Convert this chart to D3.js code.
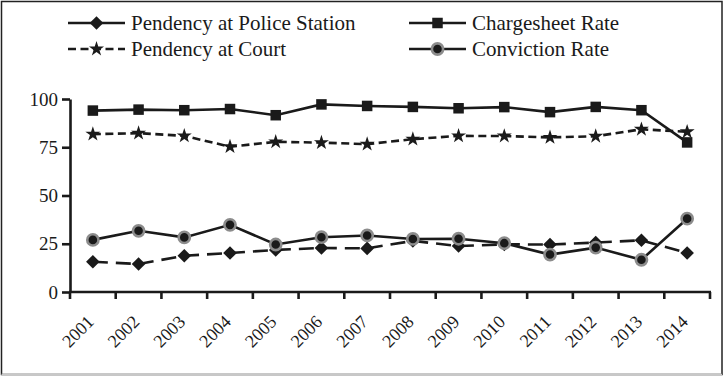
<!DOCTYPE html>
<html>
<head>
<meta charset="utf-8">
<script src="https://cdn.jsdelivr.net/npm/d3@7/dist/d3.min.js"></script>
<style>
  html, body { margin: 0; padding: 0; background: #fff; }
  svg { display: block; }
</style>
</head>
<body>
<svg id="chart" width="724" height="379"></svg>
<script>
// Years on the category axis
const years = ["2001","2002","2003","2004","2005","2006","2007","2008","2009","2010","2011","2012","2013","2014"];

// Series values (%)
const policePendency = [15.7, 14.5, 18.8, 20.2, 21.8, 22.8, 22.6, 26.5, 23.8, 24.7, 24.6, 25.6, 26.8, 20.2];
const chargesheetRate = [94.0, 94.5, 94.2, 94.8, 91.6, 97.2, 96.4, 95.9, 95.2, 95.8, 93.2, 95.9, 94.2, 77.5];
const courtPendency = [81.8, 82.3, 80.9, 75.3, 77.8, 77.4, 76.6, 79.2, 80.9, 80.8, 80.1, 80.7, 84.3, 83.0];
const convictionRate = [27.0, 31.7, 28.3, 34.8, 24.6, 28.4, 29.3, 27.5, 27.6, 25.3, 19.4, 23.0, 16.7, 38.0];

const yTicks = [0, 25, 50, 75, 100];

const series = [
  { name: "Pendency at Police Station", values: policePendency, marker: "diamond", dash: "15,8", legendDash: null },
  { name: "Chargesheet Rate", values: chargesheetRate, marker: "square", dash: null, legendDash: null },
  { name: "Pendency at Court", values: courtPendency, marker: "star", dash: "8,4.5", legendDash: "8,4.5" },
  { name: "Conviction Rate", values: convictionRate, marker: "circle", dash: null, legendDash: null }
];

const svg = d3.select("#chart");
const ink = "#1a1a1a";
const serif = "'Liberation Serif', 'Times New Roman', serif";

// Outer frame
svg.append("rect")
  .attr("x", 1.5).attr("y", 1.5).attr("width", 720.5).attr("height", 373)
  .attr("fill", "none").attr("stroke", "#222").attr("stroke-width", 1.5);
svg.append("line")
  .attr("x1", 1.5).attr("x2", 722).attr("y1", 374.5).attr("y2", 374.5)
  .attr("stroke", "#c8c8c8").attr("stroke-width", 1.5);

const plot = { left: 70, right: 710, top: 99, bottom: 292 };

const x = d3.scaleBand().domain(years).range([plot.left, plot.right]).padding(0);
const y = d3.scaleLinear().domain([0, 100]).range([plot.bottom, plot.top]);
const cx = d => x(d) + x.bandwidth() / 2;

// Y axis
const yAxis = svg.append("g")
  .attr("transform", `translate(${plot.left},0)`)
  .call(d3.axisLeft(y).tickValues(yTicks).tickSize(8).tickPadding(4).tickSizeOuter(0));
yAxis.select(".domain").attr("stroke", ink).attr("stroke-width", 2.6);
yAxis.selectAll(".tick line").attr("stroke", ink).attr("stroke-width", 2.6);
yAxis.selectAll(".tick text")
  .style("font-family", serif)
  .style("font-size", "19px")
  .attr("fill", ink);

// X axis: ticks sit on category boundaries
const bounds = years.map(d => x(d)).concat([plot.right]);
const xAxisG = svg.append("g");
xAxisG.append("line")
  .attr("x1", plot.left - 1).attr("x2", plot.right + 1)
  .attr("y1", plot.bottom).attr("y2", plot.bottom)
  .attr("stroke", ink).attr("stroke-width", 2.6);
xAxisG.selectAll("line.tk").data(bounds).join("line")
  .attr("class", "tk")
  .attr("x1", d => d).attr("x2", d => d)
  .attr("y1", plot.bottom).attr("y2", plot.bottom + 7)
  .attr("stroke", ink).attr("stroke-width", 2.6);
xAxisG.selectAll("text").data(years).join("text")
  .attr("transform", d => `translate(${cx(d) + 2},${plot.bottom + 31}) rotate(-45)`)
  .attr("text-anchor", "end")
  .attr("fill", ink)
  .style("font-family", serif)
  .style("font-size", "18px")
  .text(d => d);

// Marker drawing
function drawMarker(g, type, px, py) {
  if (type === "diamond") {
    const r = 6.8;
    g.append("path")
      .attr("d", `M${px},${py - r}L${px + r},${py}L${px},${py + r}L${px - r},${py}Z`)
      .attr("fill", ink);
  } else if (type === "square") {
    const s = 10.5;
    g.append("rect").attr("x", px - s / 2).attr("y", py - s / 2)
      .attr("width", s).attr("height", s).attr("fill", ink);
  } else if (type === "star") {
    g.append("path")
      .attr("d", d3.symbol().type(d3.symbolStar).size(70)())
      .attr("transform", `translate(${px},${py})`)
      .attr("fill", ink);
  } else if (type === "circle") {
    g.append("circle").attr("cx", px).attr("cy", py).attr("r", 5.6)
      .attr("fill", ink).attr("stroke", "#8c8c8c").attr("stroke-width", 2.6);
  }
}

// Series lines and markers
const line = d3.line().x((v, i) => cx(years[i])).y(v => y(v));
series.forEach(s => {
  const g = svg.append("g");
  g.append("path")
    .attr("d", line(s.values))
    .attr("fill", "none")
    .attr("stroke", ink)
    .attr("stroke-width", 2.6)
    .attr("stroke-dasharray", s.dash);
  s.values.forEach((v, i) => drawMarker(g, s.marker, cx(years[i]), y(v)));
});

// Legend (two columns, two rows)
const legendPos = [
  { lx: 68, ly: 23 }, { lx: 409, ly: 23 },
  { lx: 68, ly: 49 }, { lx: 409, ly: 49 }
];
series.forEach((s, i) => {
  const p = legendPos[i];
  const g = svg.append("g");
  g.append("line")
    .attr("x1", p.lx).attr("x2", p.lx + 57)
    .attr("y1", p.ly).attr("y2", p.ly)
    .attr("stroke", ink).attr("stroke-width", 2.6)
    .attr("stroke-dasharray", s.legendDash);
  drawMarker(g, s.marker, p.lx + 28.5, p.ly);
  g.append("text")
    .attr("x", p.lx + 63).attr("y", p.ly)
    .attr("dy", "0.35em")
    .attr("fill", ink)
    .style("font-family", serif)
    .style("font-size", "21px")
    .text(s.name);
});
</script>
</body>
</html>
